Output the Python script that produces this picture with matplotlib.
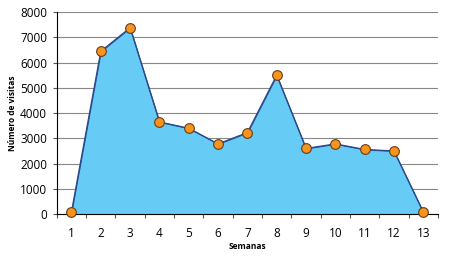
import numpy as np
import matplotlib
matplotlib.use('Agg')
import matplotlib.pyplot as plt

plt.rcParams['font.family'] = ['Open Sans', 'DejaVu Sans']

#Data
semanas = [1, 2, 3, 4, 5, 6, 7, 8, 9, 10, 11, 12, 13]
visitas = [100, 6450, 7380, 3650, 3400, 2780, 3230, 5500, 2600, 2780, 2560, 2500, 80]
yticks = [0, 1000, 2000, 3000, 4000, 5000, 6000, 7000, 8000]

fig = plt.figure(figsize=(4.51, 2.57), dpi=100)
ax = fig.add_axes([0.126, 0.167, 0.845, 0.786])

#Area + line + markers
ax.fill_between(semanas, 0, visitas, color='#66CCF5', edgecolor='#2B4A8C', linewidth=0.8, zorder=2)
ax.plot(semanas, visitas, color='#2B4A8C', linewidth=0.9, zorder=3)
ax.plot(semanas, visitas, 'o', markersize=7, markerfacecolor='#F7941D',
        markeredgecolor='#6B3A1A', markeredgewidth=0.8, zorder=4, clip_on=False)

ax.set_xlim(0.5, 13.5)
ax.set_ylim(0, 8000)
ax.set_yticks(yticks)
ax.set_xticks(semanas)
ax.set_xticks(np.arange(0.5, 14, 1), minor=True)
ax.tick_params(axis='x', which='major', length=0, labelsize=8.5, pad=9)
ax.tick_params(axis='x', which='minor', length=3, width=0.8, color='#555555')
ax.tick_params(axis='y', length=3, width=0.8, labelsize=8.5, color='#555555', pad=4)

ax.grid(axis='y', color='#888888', linewidth=0.8, zorder=0)
ax.set_axisbelow(True)
for s in ['top', 'right']:
    ax.spines[s].set_visible(False)
ax.spines['left'].set_color('black')
ax.spines['bottom'].set_color('black')

ax.set_xlabel('Semanas', fontsize=6, fontweight='bold', labelpad=2)
ax.set_ylabel('Número de visitas', fontsize=6, fontweight='bold', labelpad=2)

fig.savefig('out.png', dpi=100)
